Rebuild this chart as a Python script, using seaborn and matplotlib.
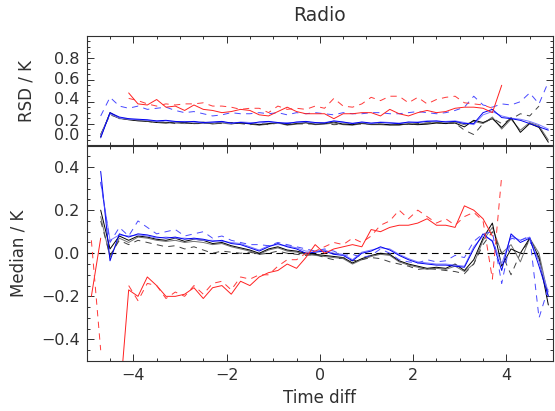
import numpy as np
import pandas as pd
import matplotlib
matplotlib.use("Agg")
import matplotlib.pyplot as plt
import matplotlib.transforms as mtrans
import seaborn as sns
from matplotlib.ticker import MultipleLocator, FixedLocator

sns.set_theme(style="white")
plt.rcParams["font.family"] = ["DejaVu Sans"]

nan = np.nan

time_diff = [-4.9, -4.7, -4.5, -4.3, -4.1, -3.9, -3.7, -3.5, -3.3, -3.1,
             -2.9, -2.7, -2.5, -2.3, -2.1, -1.9, -1.7, -1.5, -1.3, -1.1,
             -0.9, -0.7, -0.5, -0.3, -0.1, 0.1, 0.3, 0.5, 0.7, 0.9,
             1.1, 1.3, 1.5, 1.7, 1.9, 2.1, 2.3, 2.5, 2.7, 2.9,
             3.1, 3.3, 3.5, 3.7, 3.9, 4.1, 4.3, 4.5, 4.7, 4.9]

# ---------------- RSD (top panel) ----------------
rsd_black = [nan, 0.08, 0.30, 0.25, 0.235, 0.225, 0.22, 0.21, 0.205, 0.215,
             0.21, 0.2, 0.205, 0.205, 0.215, 0.2, 0.205, 0.2, 0.19, 0.2,
             0.21, 0.19, 0.2, 0.21, 0.195, 0.2, 0.215, 0.195, 0.19, 0.205,
             0.195, 0.195, 0.19, 0.19, 0.195, 0.19, 0.195, 0.205, 0.2, 0.205,
             0.17, 0.23, 0.21, 0.245, 0.165, 0.255, 0.12, 0.2, 0.165, 0.03]
rsd_gray = [nan, 0.1, 0.29, 0.245, 0.24, 0.23, 0.225, 0.22, 0.21, 0.205,
            0.2, 0.205, 0.215, 0.195, 0.205, 0.195, 0.21, 0.195, 0.185, 0.195,
            0.205, 0.185, 0.195, 0.205, 0.19, 0.195, 0.205, 0.19, 0.185, 0.2,
            0.19, 0.19, 0.185, 0.185, 0.2, 0.195, 0.205, 0.21, 0.205, 0.215,
            0.19, 0.22, 0.2, 0.26, 0.15, 0.24, 0.14, 0.21, 0.18, 0.05]
rsd_gray_dash = [nan, 0.1, 0.28, 0.25, 0.24, 0.23, 0.22, 0.21, 0.215, 0.2,
                 0.21, 0.2, 0.2, 0.205, 0.2, 0.21, 0.2, 0.19, 0.2, 0.19,
                 0.205, 0.195, 0.2, 0.195, 0.2, 0.205, 0.19, 0.195, 0.2, 0.195,
                 0.2, 0.195, 0.19, 0.2, 0.19, 0.2, 0.205, 0.21, 0.2, 0.205,
                 0.14, 0.1, 0.2, 0.25, 0.2, 0.24, 0.29, 0.27, 0.36, nan]
rsd_blue = [nan, 0.07, 0.3, 0.26, 0.245, 0.24, 0.235, 0.225, 0.23, 0.22,
            0.215, 0.22, 0.21, 0.215, 0.22, 0.205, 0.21, 0.2, 0.215, 0.22,
            0.21, 0.2, 0.215, 0.22, 0.21, 0.205, 0.225, 0.215, 0.2, 0.215,
            0.205, 0.21, 0.205, 0.2, 0.215, 0.21, 0.22, 0.225, 0.215, 0.22,
            0.2, 0.2, 0.3, 0.33, 0.255, 0.245, 0.23, 0.2, 0.17, 0.14]
rsd_blue2 = [nan, 0.09, 0.29, 0.25, 0.24, 0.235, 0.23, 0.22, 0.225, 0.215,
             0.22, 0.215, 0.205, 0.21, 0.215, 0.2, 0.215, 0.21, 0.205, 0.215,
             0.205, 0.21, 0.21, 0.215, 0.205, 0.21, 0.22, 0.21, 0.205, 0.21,
             0.2, 0.215, 0.21, 0.205, 0.21, 0.215, 0.225, 0.22, 0.22, 0.225,
             0.21, 0.19, 0.28, 0.31, 0.27, 0.25, 0.24, 0.22, 0.19, 0.15]
rsd_blue_dash = [nan, 0.27, 0.44, 0.36, 0.34, 0.36, 0.33, 0.34, 0.35, 0.32,
                 0.3, 0.31, 0.29, 0.27, 0.28, 0.3, 0.29, 0.29, 0.3, 0.29,
                 0.3, 0.28, 0.3, 0.29, 0.3, 0.29, 0.28, 0.3, 0.29, 0.29,
                 0.3, 0.3, 0.29, 0.29, 0.3, 0.31, 0.3, 0.29, 0.3, 0.32,
                 0.35, 0.45, 0.37, 0.35, 0.38, 0.37, 0.4, 0.48, 0.38, 0.58]
rsd_red = [nan, nan, nan, nan, 0.48, 0.38, 0.37, 0.42, 0.35, 0.36,
           0.32, 0.37, 0.33, 0.32, 0.30, 0.31, 0.33, 0.32, 0.28, 0.27,
           0.31, 0.35, 0.31, 0.29, 0.29, 0.29, 0.245, 0.29, 0.29, 0.30,
           0.30, 0.27, 0.33, 0.29, 0.27, 0.30, 0.32, 0.30, 0.31, 0.34,
           0.35, 0.35, 0.34, 0.30, 0.55, nan, nan, nan, nan, nan]
rsd_red_dash = [nan, nan, nan, nan, 0.43, 0.41, 0.38, 0.36, 0.38, 0.37,
                0.38, 0.38, 0.39, 0.36, 0.36, 0.35, 0.33, 0.34, 0.34, 0.30,
                0.36, 0.33, 0.34, 0.33, 0.36, 0.34, 0.43, 0.36, 0.35, 0.38,
                0.44, 0.41, 0.45, 0.45, 0.39, 0.44, 0.38, 0.42, 0.44, 0.45,
                0.39, 0.38, 0.37, 0.34, nan, nan, nan, nan, nan, nan]

# ---------------- Median (bottom panel) ----------------
med_black = [nan, 0.20, 0.02, 0.08, 0.06, 0.08, 0.075, 0.065, 0.06, 0.07,
             0.055, 0.065, 0.06, 0.045, 0.05, 0.035, 0.025, 0.015, 0.0, 0.02,
             0.03, 0.015, 0.01, 0.0, -0.005, -0.01, -0.015, -0.02, -0.045, -0.025,
             -0.01, 0.0, -0.005, -0.035, -0.05, -0.06, -0.07, -0.065, -0.07, -0.05,
             -0.08, -0.03, 0.07, 0.14, -0.06, 0.02, 0.0, 0.07, -0.02, -0.24]
med_gray = [nan, 0.17, -0.02, 0.07, 0.05, 0.075, 0.07, 0.06, 0.055, 0.06,
            0.05, 0.055, 0.05, 0.04, 0.045, 0.03, 0.02, 0.01, -0.005, 0.015,
            0.025, 0.01, 0.005, -0.005, -0.01, -0.015, -0.02, -0.025, -0.05, -0.03,
            -0.015, -0.005, -0.01, -0.04, -0.055, -0.065, -0.075, -0.07, -0.075, -0.06,
            -0.085, -0.05, 0.06, 0.12, 0.0, 0.04, -0.04, 0.07, 0.0, -0.2]
med_gray_dash = [nan, 0.15, -0.01, 0.06, 0.04, 0.06, 0.05, 0.04, 0.03, 0.035,
                 0.02, 0.03, 0.015, 0.0, 0.01, 0.005, 0.0, 0.005, -0.005, 0.0,
                 0.01, 0.0, -0.005, -0.01, -0.005, -0.02, -0.03, -0.02, -0.035, -0.03,
                 -0.02, -0.025, -0.04, -0.05, -0.06, -0.075, -0.07, -0.075, -0.08, -0.085,
                 -0.095, -0.05, 0.04, 0.1, 0.0, -0.1, 0.0, 0.06, -0.03, -0.2]
med_blue = [nan, 0.38, -0.035, 0.09, 0.075, 0.09, 0.085, 0.075, 0.07, 0.075,
            0.065, 0.07, 0.065, 0.055, 0.06, 0.045, 0.04, 0.025, 0.01, 0.03,
            0.045, 0.03, 0.02, 0.0, 0.005, 0.01, -0.005, -0.01, -0.035, 0.0,
            0.01, 0.03, 0.015, -0.01, -0.03, -0.045, -0.05, -0.055, -0.055, -0.06,
            -0.065, 0.02, 0.09, 0.055, -0.08, 0.09, 0.05, 0.07, -0.06, -0.2]
med_blue2 = [nan, 0.33, 0.06, 0.085, 0.08, 0.085, 0.08, 0.07, 0.075, 0.07,
             0.07, 0.065, 0.06, 0.06, 0.055, 0.05, 0.045, 0.03, 0.015, 0.035,
             0.04, 0.035, 0.025, 0.01, 0.01, 0.015, 0.0, -0.005, -0.03, 0.005,
             0.015, 0.025, 0.02, -0.005, -0.025, -0.04, -0.045, -0.05, -0.05, -0.055,
             -0.06, 0.03, 0.08, 0.06, -0.05, 0.08, 0.06, 0.075, -0.04, -0.18]
med_blue_dash = [nan, 0.33, 0.05, 0.12, 0.08, 0.15, 0.12, 0.09, 0.1, 0.11,
                 0.08, 0.09, 0.1, 0.07, 0.08, 0.06, 0.05, 0.04, 0.04, 0.035,
                 0.05, 0.04, 0.03, 0.02, 0.01, 0.02, 0.01, -0.01, -0.005, -0.02,
                 -0.01, 0.02, 0.0, -0.03, -0.04, -0.045, -0.03, -0.04, -0.035, -0.01,
                 -0.02, 0.055, 0.09, 0.1, -0.14, 0.07, 0.06, 0.08, -0.3, -0.16]
med_red = [nan, nan, nan, -0.7, -0.17, -0.2, -0.11, -0.15, -0.2, -0.2,
           -0.19, -0.16, -0.21, -0.16, -0.15, -0.19, -0.13, -0.15, -0.11, -0.09,
           -0.08, -0.05, -0.07, -0.02, 0.04, 0.0, 0.02, 0.03, 0.04, 0.03,
           0.11, 0.10, 0.12, 0.13, 0.13, 0.14, 0.16, 0.13, 0.13, 0.12,
           0.22, 0.2, 0.16, 0.08, nan, nan, nan, nan, nan, nan]
med_red_dash = [nan, nan, nan, nan, -0.15, -0.22, -0.14, -0.15, -0.21, -0.18,
                -0.2, -0.15, -0.19, -0.14, -0.13, -0.17, -0.11, -0.12, -0.1, -0.1,
                -0.06, -0.03, -0.03, 0.0, 0.01, 0.03, 0.05, 0.04, 0.07, 0.05,
                0.08, 0.13, 0.15, 0.2, 0.16, 0.2, 0.17, 0.14, 0.16, 0.13,
                0.17, 0.19, 0.15, -0.12, 0.36, nan, nan, nan, nan, nan]
# short fragments at the far left edge
edge_time = [-4.9, -4.7]
edge_red = [-0.2, 0.07]
edge_red_dash = [0.06, -0.45]

ytick_rsd = [0.0, 0.2, 0.4, 0.6, 0.8]
ytick_med = [-0.4, -0.2, 0.0, 0.2, 0.4]
xtick_vals = [-4, -2, 0, 2, 4]

W, H = 555, 411
fig = plt.figure(figsize=(W / 100, H / 100), dpi=100)
left, right = 86.7 / W, 553 / W
ax1 = fig.add_axes([left, 1 - 145.5 / H, right - left, 109.5 / H])
ax2 = fig.add_axes([left, 1 - 361 / H, right - left, 215.5 / H])

DASH = (0, (6.5, 5.5))
LW = 0.7
styles = [
    ("gray", "#707070", "-"),
    ("black", "#000000", "-"),
    ("gray_dash", "#404040", DASH),
    ("blue2", "#7878ff", "-"),
    ("blue", "#0000f0", "-"),
    ("blue_dash", "#4848ff", DASH),
    ("red", "#ff2020", "-"),
    ("red_dash", "#ff3838", DASH),
]
rsd = dict(black=rsd_black, gray=rsd_gray, gray_dash=rsd_gray_dash, blue=rsd_blue,
           blue2=rsd_blue2, blue_dash=rsd_blue_dash, red=rsd_red, red_dash=rsd_red_dash)
med = dict(black=med_black, gray=med_gray, gray_dash=med_gray_dash, blue=med_blue,
           blue2=med_blue2, blue_dash=med_blue_dash, red=med_red, red_dash=med_red_dash)


def draw(ax, data):
    for key, col, ls in styles:
        df = pd.DataFrame({"t": time_diff, "v": data[key]}).dropna()
        sns.lineplot(data=df, x="t", y="v", ax=ax, color=col, linestyle=ls,
                     linewidth=LW, estimator=None, sort=False)


draw(ax1, rsd)
draw(ax2, med)
sns.lineplot(x=edge_time, y=edge_red, ax=ax2, color="#ff2020", linewidth=LW,
             estimator=None, sort=False)
sns.lineplot(x=edge_time, y=edge_red_dash, ax=ax2, color="#ff3838",
             linestyle=DASH, linewidth=LW, estimator=None, sort=False)
ax2.axhline(0, color="black", linestyle=(0, (6, 4)), linewidth=0.8, zorder=1)

ax1.set_xlim(-5, 5)
ax2.set_xlim(-5, 5)
ax1.set_ylim(0.0, 1.0)
ax2.set_ylim(-0.5, 0.5)

TXT = "#303030"
for ax in (ax1, ax2):
    ax.xaxis.set_major_locator(FixedLocator(xtick_vals))
    ax.xaxis.set_minor_locator(MultipleLocator(0.5))
    ax.yaxis.set_minor_locator(MultipleLocator(0.05))
    ax.tick_params(which="both", direction="in", top=True, right=True,
                   bottom=True, left=True, colors="#303030", labelcolor=TXT,
                   labelsize=11.5, width=0.7)
    ax.tick_params(which="major", length=5)
    ax.tick_params(which="minor", length=2.5)
    for s in ax.spines.values():
        s.set_color("#303030")
        s.set_linewidth(0.8)
    ax.set_xlabel("")
    ax.set_ylabel("")

ax1.yaxis.set_major_locator(FixedLocator(ytick_rsd))
ax2.yaxis.set_major_locator(FixedLocator(ytick_med))
ax1.set_yticklabels([f"{v:.1f}" for v in ytick_rsd])
ax2.set_yticklabels([f"{v:.1f}".replace("-", "\u2212") for v in ytick_med])
ax1.tick_params(axis="x", labelbottom=False)
ax1.tick_params(axis="y", pad=5)
ax2.tick_params(axis="y", pad=5)
ax2.tick_params(axis="x", pad=5)
ax2.set_xticklabels([f"{v:d}".replace("-", "\u2212") for v in xtick_vals])

ax1.set_ylabel("RSD / K", fontsize=12, color=TXT)
ax2.set_ylabel("Median / K", fontsize=12, color=TXT)
ax1.yaxis.set_label_coords(-0.11, 0.5)
ax2.yaxis.set_label_coords(-0.128, 0.5)
ax2.set_xlabel("Time diff", fontsize=12, color=TXT, labelpad=4)
ax1.set_title("Radio", fontsize=13.5, color=TXT, pad=11)

# the reference squeezes the lower RSD labels upward (0.0 overlaps 0.2)
shifts_px = [11, 4, 4, 2, 0]
for lab, dy in zip(ax1.get_yticklabels(), shifts_px):
    lab.set_transform(lab.get_transform() +
                      mtrans.ScaledTranslation(0, dy / 100, fig.dpi_scale_trans))

fig.savefig("out.png", dpi=100)
